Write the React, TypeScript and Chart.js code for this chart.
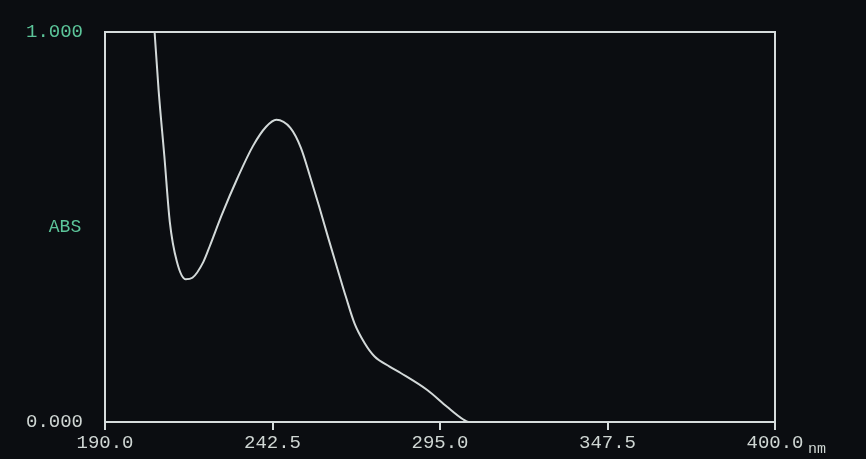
import React, { useEffect, useRef } from "react";
import { Chart, registerables } from "chart.js";

Chart.register(...registerables);

// Wavelength (nm) and absorbance
const wavelengths = [
  205.3, 206.8, 208.6, 210.3, 212.5, 215.3, 217.4, 220.8, 222.8, 226.6,
  231.5, 236.4, 240.5, 243.7, 248.1, 251.4, 254.3, 257.1, 259.9, 262.7, 265.5,
  268.2, 271.4, 274.5, 279.2, 282.8, 291.0, 297.2, 302.2, 304.0, 400.0,
];
const absorbance = [
  1.03, 0.851, 0.682, 0.514, 0.412, 0.366, 0.37, 0.41, 0.45, 0.531,
  0.625, 0.708, 0.757, 0.775, 0.754, 0.703, 0.629, 0.553, 0.474, 0.397, 0.321,
  0.253, 0.202, 0.168, 0.142, 0.125, 0.082, 0.039, 0.007, 0.0, 0.0,
];
const xTickValues = [190.0, 242.5, 295.0, 347.5, 400.0];
const yTickValues = [0, 1];
const xUnit = "nm";
const yTitle = "ABS";

const BG = "#0b0d11";
const FRAME = "#d6dcdc";
const TEAL = "#5cc59a";
const LIGHT = "#cfd6d3";
const MONO = "'Liberation Mono', 'DejaVu Sans Mono', monospace";

export default function App() {
  const ref = useRef<HTMLCanvasElement | null>(null);

  useEffect(() => {
    document.body.style.margin = "0";
    document.body.style.background = BG;
    const canvas = ref.current;
    if (!canvas) return;

    const framePlugin = {
      id: "frame",
      beforeDraw(chart: any) {
        const { ctx } = chart;
        ctx.save();
        ctx.fillStyle = BG;
        ctx.fillRect(0, 0, chart.width, chart.height);
        ctx.restore();
      },
      afterDatasetsDraw(chart: any) {
        const { ctx, chartArea, scales } = chart;
        ctx.save();
        ctx.strokeStyle = FRAME;
        ctx.lineWidth = 2;
        ctx.strokeRect(
          chartArea.left,
          chartArea.top,
          chartArea.right - chartArea.left,
          chartArea.bottom - chartArea.top
        );
        // horizontal "ABS" label at mid-height
        ctx.fillStyle = TEAL;
        ctx.font = `18px ${MONO}`;
        ctx.textAlign = "center";
        ctx.textBaseline = "middle";
        ctx.fillText(yTitle, 65, scales.y.getPixelForValue(0.5));
        // unit after last x tick
        ctx.fillStyle = LIGHT;
        ctx.font = `15px ${MONO}`;
        ctx.textAlign = "left";
        ctx.fillText(xUnit, scales.x.getPixelForValue(400) + 33, 449);
        ctx.restore();
      },
    };

    const chart = new Chart(canvas, {
      type: "line",
      data: {
        datasets: [
          {
            data: wavelengths.map((w, i) => ({ x: w, y: absorbance[i] })),
            borderColor: "#d3d9d9",
            borderWidth: 2,
            pointRadius: 0,
            cubicInterpolationMode: "monotone",
            fill: false,
          },
        ],
      },
      options: {
        animation: false,
        responsive: false,
        maintainAspectRatio: false,
        devicePixelRatio: 1,
        layout: { padding: { left: 0, right: 91, top: 32, bottom: 0 } },
        plugins: {
          legend: { display: false },
          tooltip: { enabled: false },
        },
        scales: {
          x: {
            type: "linear",
            min: 190,
            max: 400,
            afterBuildTicks: (scale: any) => {
              scale.ticks = xTickValues.map((v) => ({ value: v }));
            },
            afterFit: (scale: any) => {
              scale.height = 37;
            },
            border: { display: false },
            grid: {
              drawOnChartArea: false,
              drawTicks: true,
              tickLength: 8,
              color: FRAME,
              lineWidth: 2,
            },
            ticks: {
              color: LIGHT,
              font: { family: MONO, size: 19 },
              padding: 2,
              maxRotation: 0,
              autoSkip: false,
              callback: (v: any) => Number(v).toFixed(1),
            },
          },
          y: {
            type: "linear",
            min: 0,
            max: 1,
            afterBuildTicks: (scale: any) => {
              scale.ticks = yTickValues.map((v) => ({ value: v }));
            },
            afterFit: (scale: any) => {
              scale.width = 105;
            },
            border: { display: false },
            grid: { display: false },
            ticks: {
              font: { family: MONO, size: 19 },
              padding: 14,
              color: (ctx: any) => (ctx.tick && ctx.tick.value === 1 ? TEAL : LIGHT),
              callback: (v: any) => Number(v).toFixed(3),
            },
          },
        },
      },
      plugins: [framePlugin],
    } as any);

    return () => chart.destroy();
  }, []);

  return (
    <div style={{ width: 866, height: 459, background: BG }}>
      <canvas ref={ref} width={866} height={459} />
    </div>
  );
}
